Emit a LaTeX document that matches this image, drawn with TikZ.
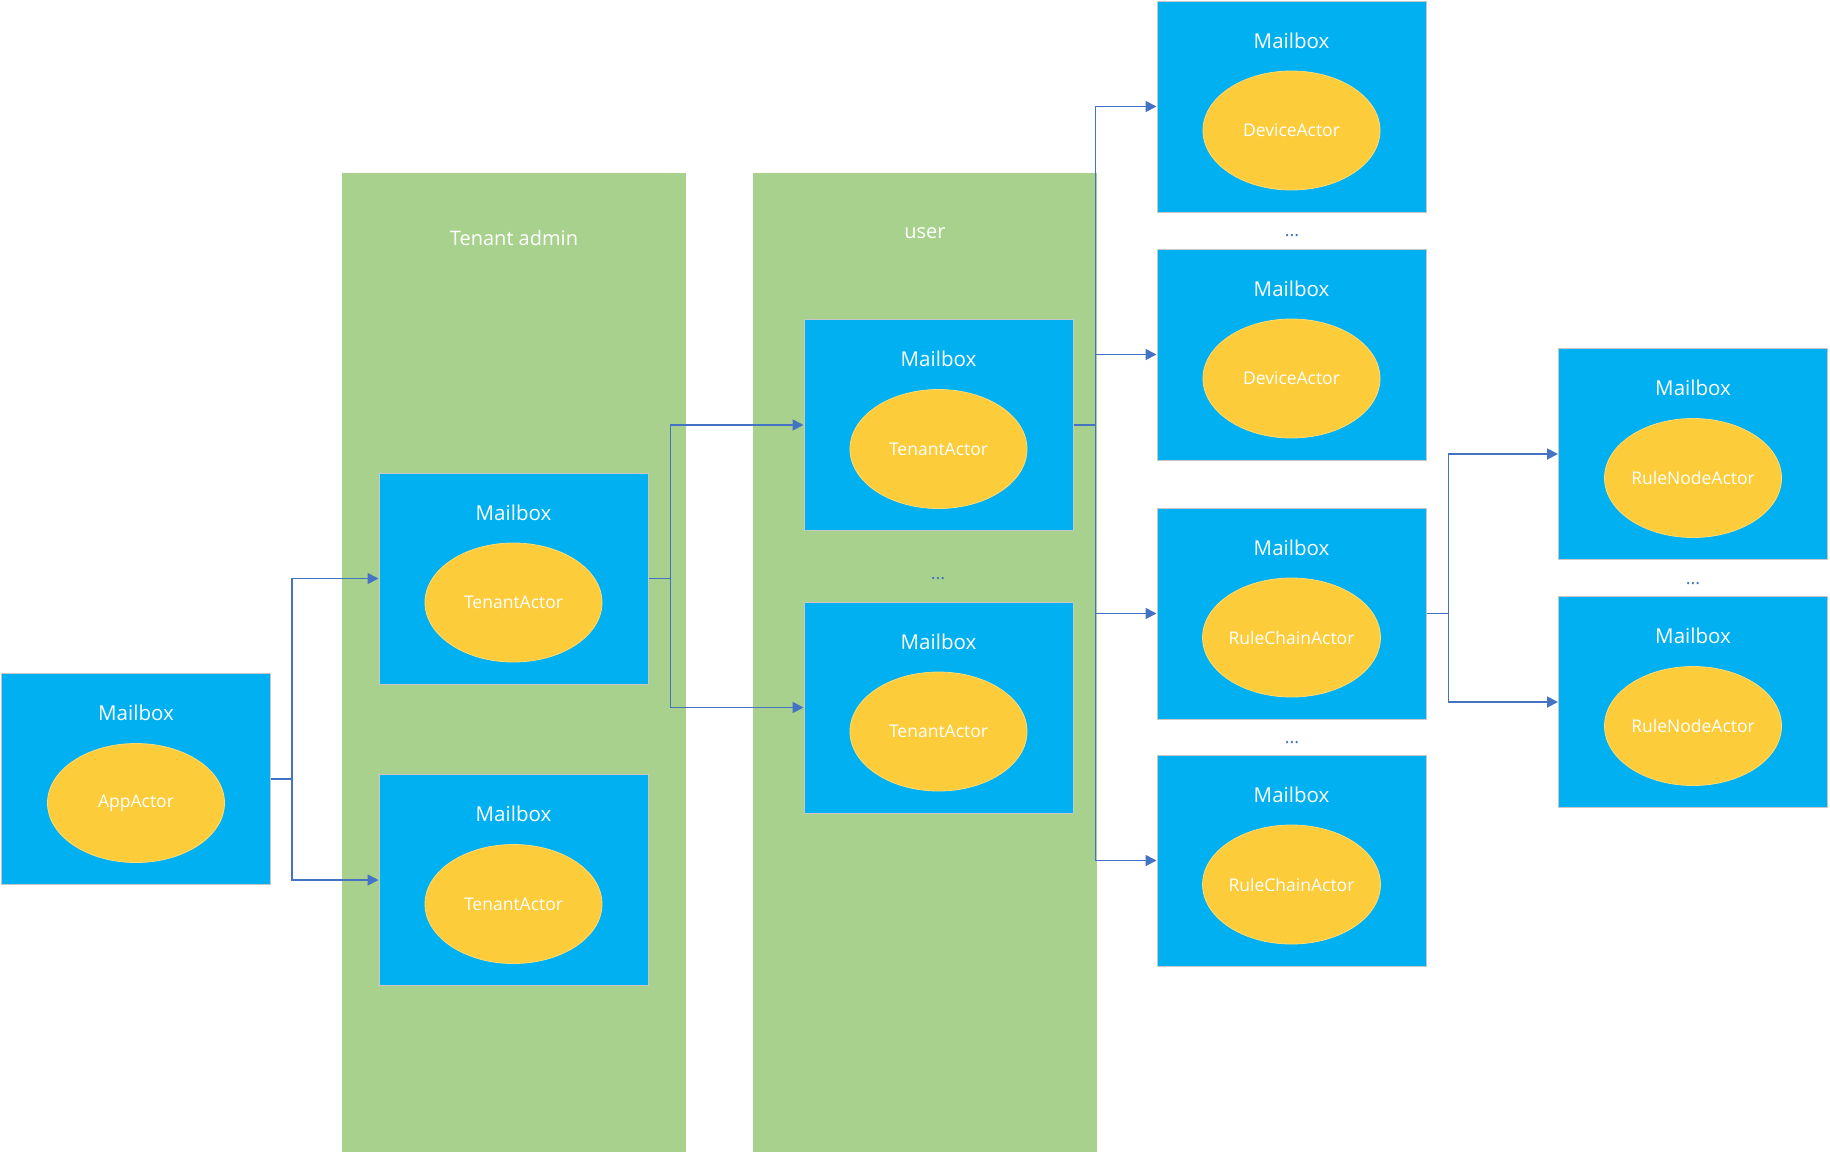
\documentclass[tikz,border=0pt]{standalone}
\usepackage{fontspec}
\setmainfont{Open Sans}
\usepackage{tikz}
\usetikzlibrary{calc}
\usetikzlibrary{arrows.meta,shapes,positioning}

\definecolor{mbblue}{RGB}{0,176,240}
\definecolor{actyellow}{RGB}{252,204,58}
\definecolor{grpgreen}{RGB}{169,209,142}
\definecolor{linkblue}{RGB}{68,114,196}

\tikzset{
  mailbox/.style={rectangle,fill=mbblue,draw=black!22,line width=1pt,minimum width=269pt,minimum height=211pt,inner sep=0pt},
  mbtitle/.style={text=white,font=\fontsize{20.5}{24}\selectfont,inner sep=0pt},
  actor/.style={ellipse,fill=actyellow,draw=actyellow!70!white,line width=0.8pt,minimum width=177pt,minimum height=119pt,inner sep=0pt,text=white,font=\fontsize{17.5}{21}\selectfont},
  grplabel/.style={text=white,font=\fontsize{20}{24}\selectfont,inner sep=0pt},
  more/.style={text=linkblue,font=\fontsize{18}{20}\selectfont,inner sep=0pt},
  link/.style={draw=linkblue,line width=1.8pt,-{Triangle[length=11pt,width=11pt]}}
}

\begin{document}
\begin{tikzpicture}[x=1pt,y=-1pt]
\useasboundingbox (0,0) rectangle (1830,1152);
% groups
\fill [grpgreen] (342,173) rectangle (686,1152);
\fill [grpgreen] (753,173) rectangle (1097,1152);
\node[grplabel] (admin) at (514,238) {Tenant admin};
\node[grplabel] (user) at (925,233.5) {user};
% mailboxes with their actors
\foreach \n/\x/\y/\t in {app/136/779/AppActor, ta1/513.5/578.5/TenantActor, ta2/513.5/880/TenantActor,
  tu1/938.5/425/TenantActor, tu2/938.5/707.5/TenantActor,
  dev1/1291.5/106.5/DeviceActor, dev2/1291.5/354.5/DeviceActor,
  rc1/1291.5/613.5/RuleChainActor, rc2/1291.5/860.5/RuleChainActor,
  rn1/1693/454/RuleNodeActor, rn2/1693/702/RuleNodeActor}{
  \node[mailbox] (\n) at (\x,\y) {};
  \node[mbtitle] (\n t) at ($(\n.north)+(0,40)$) {Mailbox};
  \node[actor] (\n a) at ($(\n.center)+(0,24)$) {\t};
}
% more of the same
\node[more] (moreuser) at (938,579) {...};
\node[more] (moredev) at (1292,236) {...};
\node[more] (morerc) at (1292,743) {...};
\node[more] (morern) at (1693,584) {...};
% messages
\coordinate (s1) at ($(app.east)+(21,0)$);
\draw[link] (app.east) -- (s1) |- (ta1.west);
\draw[link] (s1) |- (ta2.west);
\coordinate (s2) at ($(ta1.east)+(22,0)$);
\draw[link] (ta1.east) -- (s2) |- (tu1.west);
\draw[link] (s2) |- (tu2.west);
\coordinate (s3) at ($(tu1.east)+(22,0)$);
\draw[link] (tu1.east) -- (s3) |- (dev1.west);
\draw[link] (s3) |- (dev2.west);
\draw[link] (s3) |- (rc1.west);
\draw[link] (s3) |- (rc2.west);
\coordinate (s4) at ($(rc1.east)+(22,0)$);
\draw[link] (rc1.east) -- (s4) |- (rn1.west);
\draw[link] (s4) |- (rn2.west);
\end{tikzpicture}
\end{document}
